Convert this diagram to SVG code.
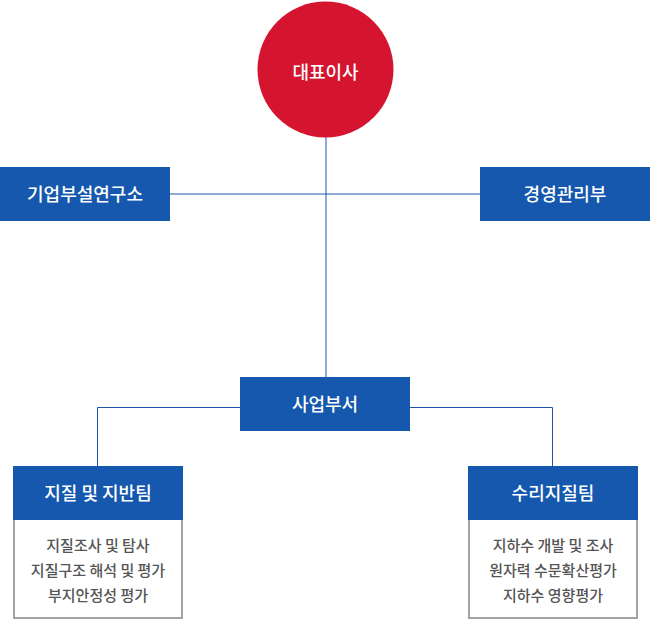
<svg xmlns="http://www.w3.org/2000/svg" width="650" height="620" viewBox="0 0 650 620">
<style>
.box{fill:#1558ad}
.h{font-family:"Noto Sans CJK KR","Noto Sans",sans-serif;font-size:18px;font-weight:500;fill:#fff;text-anchor:middle;dominant-baseline:central}
.b{font-family:"Noto Sans CJK KR","Noto Sans",sans-serif;font-size:15px;font-weight:500;fill:#555;text-anchor:middle;dominant-baseline:central}
.ln{fill:none;stroke:#1a56a8;stroke-width:1}
.card{fill:#fff;stroke:#a3a3a3;stroke-width:2}
</style>
<rect width="650" height="620" fill="#fff"/>
<g id="connectors">
<line class="ln" x1="326" y1="137" x2="326" y2="377"/>
<line class="ln" x1="170" y1="194" x2="480" y2="194"/>
<polyline class="ln" points="240,407.5 97.5,407.5 97.5,466"/>
<polyline class="ln" points="410,407.5 552.5,407.5 552.5,466"/>
</g>
<g id="ceo">
<circle cx="325.5" cy="69.5" r="68" fill="#d51530"/>
<text class="h" x="325.5" y="71">대표이사</text>
</g>
<g id="lab">
<rect class="box" x="0" y="167" width="170" height="54"/>
<text class="h" x="85" y="193">기업부설연구소</text>
</g>
<g id="mgmt">
<rect class="box" x="480" y="167" width="170" height="54"/>
<text class="h" x="565" y="193">경영관리부</text>
</g>
<g id="biz">
<rect class="box" x="240" y="377" width="170" height="54"/>
<text class="h" x="325" y="403">사업부서</text>
</g>
<g id="geo">
<rect class="card" x="14" y="519" width="168" height="99"/>
<rect class="box" x="13" y="466" width="170" height="54"/>
<text class="h" x="98" y="492">지질 및 지반팀</text>
<text class="b" x="98" y="544">지질조사 및 탐사</text>
<text class="b" x="98" y="569">지질구조 해석 및 평가</text>
<text class="b" x="98" y="594">부지안정성 평가</text>
</g>
<g id="hydro">
<rect class="card" x="469" y="519" width="168" height="99"/>
<rect class="box" x="468" y="466" width="170" height="54"/>
<text class="h" x="553" y="492">수리지질팀</text>
<text class="b" x="553" y="544">지하수 개발 및 조사</text>
<text class="b" x="553" y="569">원자력 수문확산평가</text>
<text class="b" x="553" y="594">지하수 영향평가</text>
</g>
</svg>
